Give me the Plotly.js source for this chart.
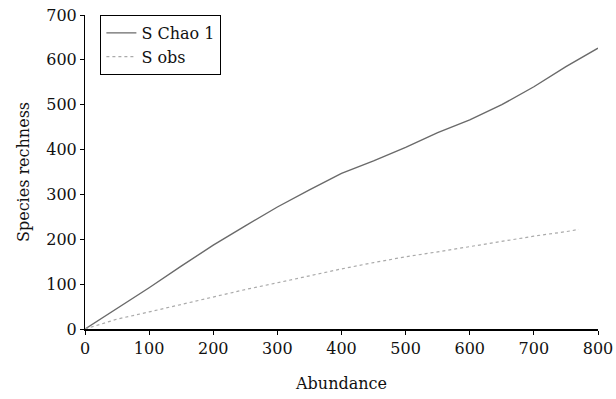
<!DOCTYPE html>
<html>
<head>
<meta charset="utf-8">
<script src="https://cdn.plot.ly/plotly-3.0.1.min.js"></script>
<style>html,body{margin:0;padding:0;background:#fff;}#chart{width:616px;height:399px;}</style>
</head>
<body>
<div id="chart"></div>
<script>
const abundance = [0, 50, 100, 150, 200, 250, 300, 350, 400, 450, 500, 550, 600, 650, 700, 750, 800];
const chao1 = [0, 45, 92, 140, 187, 230, 272, 310, 347, 375, 405, 438, 466, 500, 540, 585, 626];
const abundanceObs = [0, 50, 100, 150, 200, 250, 300, 350, 400, 450, 500, 550, 600, 650, 700, 750, 770];
const sobs = [0, 22, 38, 55, 72, 88, 103, 119, 134, 148, 161, 172, 184, 195, 207, 217, 222];
const xTicks = [0, 100, 200, 300, 400, 500, 600, 700, 800];
const yTicks = [0, 100, 200, 300, 400, 500, 600, 700];

const font = {family: 'DejaVu Serif', size: 16, color: '#111'};

const traces = [
  {x: abundance, y: chao1, type: 'scatter', mode: 'lines', name: 'S Chao 1',
   line: {color: '#6a6a6a', width: 1.4}},
  {x: abundanceObs, y: sobs, type: 'scatter', mode: 'lines', name: 'S obs',
   line: {color: '#aaa', width: 1.2, dash: 'dot'}}
];

const layout = {
  width: 616, height: 399,
  margin: {l: 85, r: 18, t: 15, b: 70},
  paper_bgcolor: '#fff', plot_bgcolor: '#fff',
  font: font,
  showlegend: true,
  legend: {x: 0.03, y: 1.0, xanchor: 'left', yanchor: 'top',
    bordercolor: '#000', borderwidth: 1, bgcolor: '#fff',
    font: font, tracegroupgap: 0, itemwidth: 30},
  xaxis: {range: [0, 800], tickvals: xTicks, ticktext: xTicks.map(String),
    showgrid: false, zeroline: false, showline: true, linecolor: '#000', linewidth: 1.5,
    ticks: 'outside', ticklen: 4, tickcolor: '#000', tickfont: font,
    title: {text: 'Abundance', font: font, standoff: 21}},
  yaxis: {range: [0, 700], tickvals: yTicks, ticktext: yTicks.map(String),
    showgrid: false, zeroline: false, showline: true, linecolor: '#000', linewidth: 1,
    ticks: 'outside', ticklen: 4, tickcolor: '#000', tickfont: font,
    title: {text: 'Species rechness', font: font, standoff: 12}}
};

Plotly.newPlot('chart', traces, layout, {displayModeBar: false, staticPlot: true});
</script>
</body>
</html>
